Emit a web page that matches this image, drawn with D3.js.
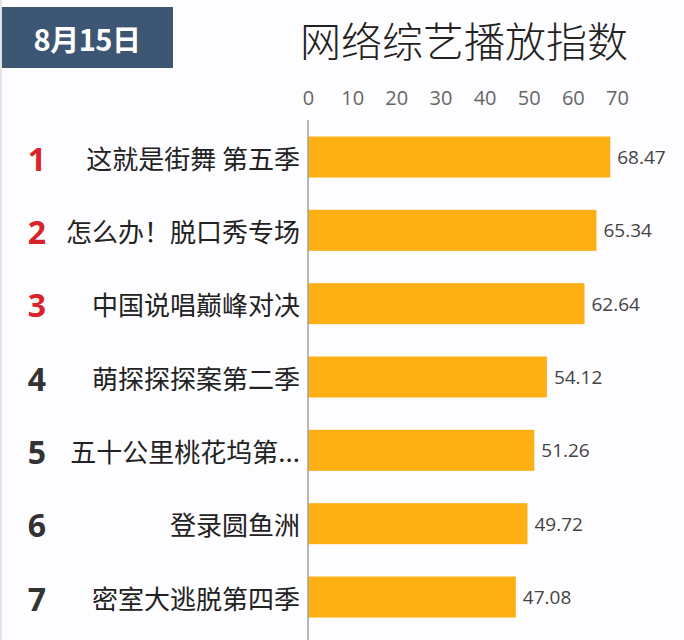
<!DOCTYPE html>
<html><head><meta charset="utf-8">
<script src="https://cdn.jsdelivr.net/npm/d3@7"></script>
<style>
html,body{margin:0;padding:0;background:#fdfcfe;}
svg{display:block;font-family:"Noto Sans CJK SC","Noto Sans",sans-serif;}
</style></head>
<body><svg id="c" width="684" height="640"></svg>
<script>
const ranks = ["1","2","3","4","5","6","7"];
const categories = ["这就是街舞 第五季","怎么办！脱口秀专场","中国说唱巅峰对决","萌探探探案第二季","五十公里桃花坞第...","登录圆鱼洲","密室大逃脱第四季"];
const values = [68.47,65.34,62.64,54.12,51.26,49.72,47.08];
const tickValues = [0,10,20,30,40,50,60,70];
const dateLabel = "8月15日";
const title = "网络综艺播放指数";

const svg = d3.select("#c");
const x = d3.scaleLinear().domain([0,70]).range([308,617]);
const y = d3.scalePoint().domain(categories).range([157,597]);
const barH = 41;

// left faint border
svg.append("rect").attr("x",0).attr("y",0).attr("width",2).attr("height",640).attr("fill","#e4e4e6");

// badge
svg.append("rect").attr("x",2).attr("y",7).attr("width",171).attr("height",61).attr("fill","#3c5673");
svg.append("text").attr("x",87).attr("y",38).attr("text-anchor","middle").attr("dominant-baseline","central")
  .attr("fill","#fff").attr("font-size",29).attr("font-weight",700).attr("letter-spacing","-0.5").text(dateLabel);

// title
svg.append("text").attr("x",464).attr("y",39).attr("text-anchor","middle").attr("dominant-baseline","central")
  .attr("fill","#222").attr("font-size",41).attr("font-weight",300).text(title);

// top axis labels
const ax = svg.append("g").attr("transform","translate(0,105)")
  .call(d3.axisTop(x).tickValues(tickValues).tickSize(0).tickPadding(0));
ax.select(".domain").remove();
ax.selectAll("text").attr("font-size",20).attr("fill","#666").attr("font-family","'Open Sans','Noto Sans',sans-serif").attr("dy","0em");

// bars
svg.append("g").selectAll("rect").data(values).join("rect")
  .attr("x",x(0)).attr("y",(d,i)=>y(categories[i])-barH/2)
  .attr("width",d=>x(d)-x(0)).attr("height",barH).attr("fill","#fdaf13");

// axis line
svg.append("line").attr("x1",x(0)).attr("x2",x(0)).attr("y1",120).attr("y2",640)
  .attr("stroke","#a0a0a0").attr("stroke-width",1.5);

// value labels
svg.append("g").selectAll("text").data(values).join("text")
  .attr("x",d=>x(d)+7).attr("y",(d,i)=>y(categories[i])).attr("dominant-baseline","central")
  .attr("font-size",19).attr("fill","#444").attr("font-family","'Open Sans','Noto Sans',sans-serif")
  .text(d=>d.toFixed(2));

// category labels
svg.append("g").selectAll("text").data(categories).join("text")
  .attr("x",300).attr("y",d=>y(d)).attr("text-anchor","end").attr("dominant-baseline","central")
  .attr("font-size",26).attr("fill","#222").text(d=>d);

// rank numbers
svg.append("g").selectAll("text").data(ranks).join("text")
  .attr("x",37).attr("y",(d,i)=>y(categories[i])+1).attr("text-anchor","middle").attr("dominant-baseline","central")
  .attr("font-size",32).attr("font-weight",700)
  .attr("font-family","'Open Sans','Noto Sans',sans-serif")
  .attr("fill",(d,i)=>i<3?"#d8232a":"#333").text(d=>d);
</script></body></html>
